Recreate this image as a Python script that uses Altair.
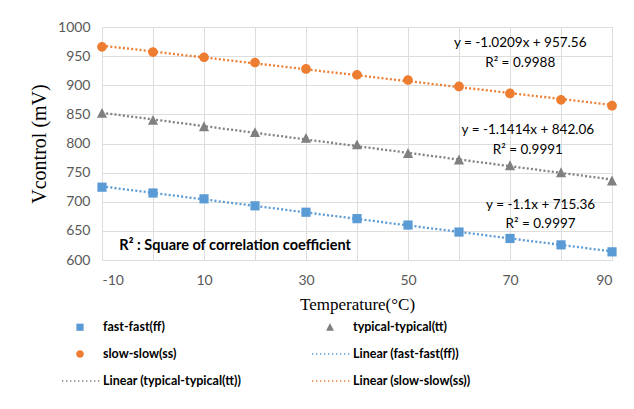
import altair as alt
import pandas as pd

# ---- data ----
temps = [-10, 0, 10, 20, 30, 40, 50, 60, 70, 80, 90]
ff = [725, 715, 705, 693, 682, 671, 660, 648, 637, 626, 614]
tt = [852, 840, 829, 819, 809, 798, 783, 772, 762, 750, 736]
ss = [966, 957, 948, 939, 928, 918, 909, 898, 886, 875, 865]

series_names = ["fast-fast(ff)", "typical-typical(tt)", "slow-slow(ss)"]
legend_order = [
    "fast-fast(ff)", "typical-typical(tt)", "slow-slow(ss)",
    "Linear (fast-fast(ff))", "Linear (typical-typical(tt))", "Linear (slow-slow(ss))",
]
colors = ["#5B9BD5", "#808080", "#ED7D31", "#5B9BD5", "#808080", "#ED7D31"]

eq_text = ["y = -1.0209x + 957.56", "R² = 0.9988",
           "y = -1.1414x + 842.06", "R² = 0.9991",
           "y = -1.1x + 715.36", "R² = 0.9997"]
eq_x = [72, 72, 73.5, 73.5, 76, 76]
eq_y = [972, 938, 823, 789, 694, 662]

note_text = ["R² : Square of correlation coefficient"]
note_x = [-6.6]
note_y = [624]

x_ticks = [-10, 0, 10, 20, 30, 40, 50, 60, 70, 80, 90]
y_ticks = [600, 650, 700, 750, 800, 850, 900, 950, 1000]

rows = []
for name, vals in zip(series_names, [ff, tt, ss]):
    for t, v in zip(temps, vals):
        rows.append({"temp": t, "v": v, "series": name})
df = pd.DataFrame(rows)
eq_df = pd.DataFrame({"temp": eq_x, "v": eq_y, "text": eq_text})
note_df = pd.DataFrame({"temp": note_x, "v": note_y, "text": note_text})

# ---- symbol shapes (unit square [-1,1]) ----
sq = "M-0.2,-0.2h0.4v0.4h-0.4Z"
tri = "M0,-0.23L0.22,0.2L-0.22,0.2Z"
circ = "M-0.21,0A0.21,0.21 0 1,0 0.21,0A0.21,0.21 0 1,0 -0.21,0Z"
dots = "".join(
    "M%.3f,-0.04h0.075v0.08h-0.075Z" % (-1 + i * 0.2222) for i in range(10)
)
shapes = [sq, tri, circ, dots, dots, dots]

color_scale = alt.Scale(domain=legend_order, range=colors)
shape_scale = alt.Scale(domain=legend_order, range=shapes)

xs = alt.X("temp:Q",
           scale=alt.Scale(domain=[-10, 90], nice=False, zero=False),
           axis=alt.Axis(values=x_ticks, title="Temperature(°C)",
                         labelExpr="datum.value % 20 == 0 ? '' : '' + datum.value",
                         labelOverlap=False,
                         ticks=False, domain=False, grid=True,
                         labelFont="Lato", labelFontSize=14, labelColor="#595959",
                         labelPadding=13,
                         titleFont="Liberation Serif", titleFontSize=17,
                         titleFontWeight="normal", titleColor="#000000",
                         titlePadding=9))
ys = alt.Y("v:Q",
           scale=alt.Scale(domain=[600, 1000], nice=False, zero=False),
           axis=alt.Axis(values=y_ticks, title="Vcontrol (mV)",
                         labelExpr="'' + datum.value",
                         labelOverlap=False,
                         ticks=False, domain=False, grid=True,
                         labelFont="Lato", labelFontSize=14, labelColor="#595959",
                         labelPadding=12,
                         titleFont="Liberation Serif", titleFontSize=20,
                         titleFontWeight="normal", titleColor="#000000",
                         titlePadding=8))

leg = alt.Legend(title=None, orient="none", legendX=-40, legendY=282,
                 direction="horizontal",
                 columns=2, columnPadding=70, rowPadding=2,
                 symbolSize=1296, symbolStrokeWidth=0,
                 labelFont="Lato", labelFontSize=12.5,
                 labelFontWeight="bold", labelColor="#000000",
                 labelOffset=5, labelLimit=300, values=legend_order)

base = alt.Chart(df)

lines = base.transform_regression(
    "temp", "v", groupby=["series"], extent=[-10, 90]
).transform_calculate(
    lin="'Linear (' + datum.series + ')'"
).mark_line(strokeDash=[2, 2.2], strokeWidth=2.3).encode(
    x=xs, y=ys,
    color=alt.Color("lin:N", scale=color_scale, legend=leg),
)

points = base.mark_point(filled=True, opacity=1, size=2116).encode(
    x=xs, y=ys,
    color=alt.Color("series:N", scale=color_scale, legend=leg),
    shape=alt.Shape("series:N", scale=shape_scale, legend=leg),
)

eqs = alt.Chart(eq_df).mark_text(font="Lato", fontSize=13.5, color="#000000").encode(
    x=xs, y=ys, text="text:N")

note = alt.Chart(note_df).mark_text(font="Lato", fontSize=14.5, fontWeight="bold",
                                    align="left", color="#000000").encode(
    x=xs, y=ys, text="text:N")

chart = alt.layer(lines, points, eqs, note).properties(
    width=510, height=233,
    autosize=alt.AutoSizeParams(type="none"),
    padding={"left": 94, "top": 19, "right": 14, "bottom": 141},
).configure_view(stroke="#D9D9D9").configure_axis(
    gridColor="#D9D9D9", gridWidth=1
).configure(background="white")

chart.save("out.html", embed_options={"renderer": "svg", "actions": False})
